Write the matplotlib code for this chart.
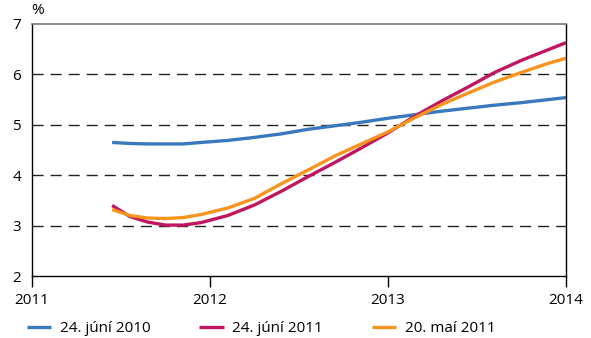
import matplotlib
matplotlib.use("Agg")
import matplotlib.pyplot as plt

plt.rcParams["font.family"] = ["Open Sans", "DejaVu Sans"]

# Forecast paths, decimal years
years = [2011.45, 2011.55, 2011.65, 2011.75, 2011.85, 2011.95, 2012.1, 2012.25,
         2012.4, 2012.55, 2012.7, 2012.85, 2013.0, 2013.15, 2013.3, 2013.45,
         2013.6, 2013.75, 2013.9, 2014.0]
jun_2010 = [4.65, 4.63, 4.62, 4.62, 4.62, 4.65, 4.69, 4.75, 4.82, 4.91, 4.98,
            5.05, 5.13, 5.20, 5.27, 5.33, 5.39, 5.44, 5.50, 5.54]
jun_2011 = [3.40, 3.18, 3.07, 3.01, 3.01, 3.06, 3.20, 3.41, 3.68, 3.97, 4.25,
            4.54, 4.84, 5.17, 5.47, 5.75, 6.04, 6.28, 6.49, 6.63]
mai_2011 = [3.32, 3.20, 3.15, 3.14, 3.16, 3.22, 3.35, 3.54, 3.83, 4.10, 4.38,
            4.62, 4.86, 5.14, 5.40, 5.63, 5.85, 6.04, 6.22, 6.32]

labels = ["24. júní 2010", "24. júní 2011", "20. maí 2011"]
colors = ["#3a78bd", "#c0165f", "#f7941d"]
xticks = [2011, 2012, 2013, 2014]
yticks = [2, 3, 4, 5, 6, 7]

fig = plt.figure(figsize=(5.91, 3.38), dpi=100)
ax = fig.add_axes([32/591, 62/338, 534/591, 252/338])

for y, c, lab in zip([jun_2010, jun_2011, mai_2011], colors, labels):
    ax.plot(years, y, color=c, lw=2.4, label=lab, solid_capstyle="butt")

for v in [3, 4, 5, 6]:
    ax.axhline(v, color="#222222", lw=1.0, ls=(0, (8, 5)), zorder=0)

ax.set_xlim(2011, 2014)
ax.set_ylim(2, 7)
ax.set_xticks(xticks)
ax.set_xticklabels([str(t) for t in xticks], fontsize=11)
ax.set_yticks(yticks)
ax.set_yticklabels([str(t) for t in yticks], fontsize=11)
ax.tick_params(axis="x", direction="out", length=8, width=1, pad=4)
ax.tick_params(axis="y", length=0, pad=8)
for s in ["left", "right", "bottom"]:
    ax.spines[s].set_color("black")
    ax.spines[s].set_linewidth(1)
ax.spines["top"].set_color("#777777")
ax.spines["top"].set_linewidth(1.2)

ax.text(-0.002, 1.025, "%", transform=ax.transAxes, fontsize=11, ha="left", va="bottom")

fig.legend(loc="center left", bbox_to_anchor=(27/591, 9/338), ncol=3, frameon=False,
           fontsize=11, handlelength=1.6, handletextpad=0.55, columnspacing=3.2,
           borderpad=0, borderaxespad=0)

fig.savefig("out.png", dpi=100)
